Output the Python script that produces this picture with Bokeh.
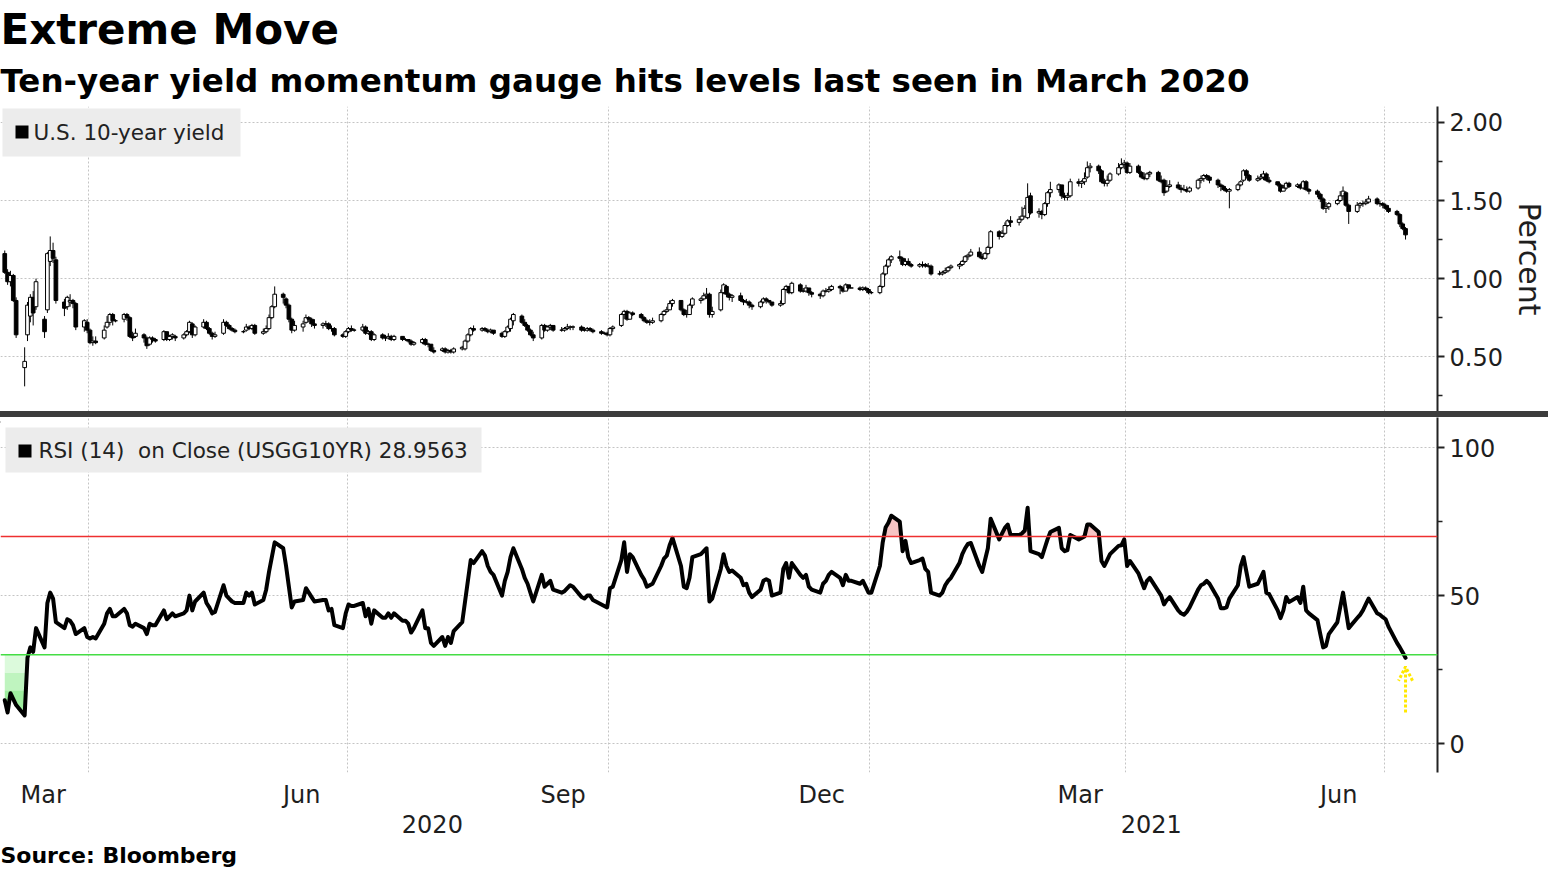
import numpy as np
import pandas as pd
from bokeh.plotting import figure
from bokeh.layouts import column
from bokeh.models import (ColumnDataSource, Range1d, FixedTicker, NumeralTickFormatter,
                          DatetimeTickFormatter, DatetimeAxis, Title, Span, Label,
                          Arrow, OpenHead, Div)
from bokeh.embed import file_html
from bokeh.resources import INLINE

FONT = "DejaVu Sans"

# ---------------- data: daily (open, high, low, close) of the US 10-year yield, per month
yld_2020_03 = [(1.16,1.18,1.03,1.04),(1.04,1.06,0.96,0.98),(0.98,1.05,0.95,1.02),(1.02,1.03,0.85,0.86),
    (0.86,0.88,0.62,0.64),(0.43,0.56,0.31,0.47),(0.64,0.85,0.60,0.83),(0.76,0.90,0.72,0.88),
    (0.88,0.92,0.70,0.78),(0.82,1.00,0.80,0.98),(0.74,0.76,0.62,0.66),(0.80,1.17,0.78,1.16),
    (1.11,1.27,1.08,1.18),(1.18,1.23,1.10,1.13),(1.12,1.14,0.84,0.86),(0.85,0.87,0.76,0.81),
    (0.82,0.89,0.80,0.88),(0.85,0.90,0.82,0.86),(0.86,0.87,0.81,0.84),(0.84,0.85,0.67,0.69),
    (0.69,0.74,0.66,0.73),(0.72,0.74,0.65,0.67)]
yld_2020_04 = [(0.67,0.68,0.58,0.59),(0.59,0.63,0.57,0.60),(0.60,0.63,0.58,0.59),(0.62,0.70,0.61,0.67),
    (0.69,0.76,0.68,0.72),(0.72,0.78,0.70,0.77),(0.77,0.78,0.70,0.73),(0.73,0.74,0.72,0.73),
    (0.74,0.78,0.72,0.77),(0.77,0.78,0.73,0.75),(0.75,0.76,0.62,0.63),(0.63,0.66,0.60,0.62),
    (0.63,0.68,0.62,0.65),(0.64,0.65,0.59,0.62),(0.62,0.63,0.55,0.57),(0.58,0.63,0.57,0.62),
    (0.62,0.63,0.59,0.61),(0.61,0.62,0.59,0.60),(0.61,0.67,0.60,0.66),(0.66,0.66,0.60,0.61),
    (0.61,0.64,0.60,0.63),(0.63,0.65,0.61,0.64)]
yld_2020_05 = [(0.63,0.64,0.60,0.62),(0.62,0.65,0.61,0.64),(0.64,0.67,0.63,0.66),(0.66,0.73,0.65,0.72),
    (0.71,0.72,0.62,0.64),(0.64,0.70,0.63,0.69),(0.69,0.74,0.68,0.72),(0.72,0.73,0.67,0.68),
    (0.68,0.69,0.64,0.65),(0.65,0.66,0.61,0.63),(0.63,0.66,0.62,0.64),(0.65,0.74,0.64,0.72),
    (0.72,0.73,0.69,0.70),(0.70,0.71,0.67,0.68),(0.68,0.69,0.66,0.67),(0.67,0.68,0.65,0.66),
    (0.66,0.67,0.65,0.66),(0.67,0.71,0.66,0.69),(0.69,0.70,0.67,0.68),(0.68,0.71,0.67,0.70),
    (0.70,0.71,0.64,0.65)]
yld_2020_06 = [(0.65,0.68,0.64,0.66),(0.66,0.70,0.65,0.68),(0.68,0.77,0.67,0.75),(0.75,0.83,0.74,0.82),
    (0.82,0.95,0.81,0.90),(0.90,0.91,0.84,0.88),(0.87,0.88,0.81,0.83),(0.83,0.84,0.72,0.74),
    (0.74,0.75,0.65,0.67),(0.67,0.73,0.66,0.70),(0.69,0.73,0.66,0.71),(0.72,0.77,0.71,0.75),
    (0.75,0.76,0.72,0.74),(0.74,0.75,0.69,0.71),(0.71,0.74,0.68,0.70),(0.70,0.72,0.68,0.71),
    (0.71,0.73,0.69,0.71),(0.71,0.72,0.67,0.68),(0.68,0.70,0.66,0.68),(0.68,0.69,0.63,0.64),
    (0.64,0.65,0.62,0.63),(0.63,0.67,0.62,0.66)]
yld_2020_07 = [(0.66,0.69,0.65,0.68),(0.68,0.70,0.66,0.67),(0.67,0.68,0.66,0.67),(0.67,0.71,0.66,0.69),
    (0.69,0.70,0.64,0.65),(0.65,0.67,0.64,0.66),(0.66,0.67,0.60,0.61),(0.61,0.65,0.60,0.64),
    (0.64,0.65,0.61,0.62),(0.62,0.64,0.60,0.62),(0.62,0.65,0.61,0.63),(0.63,0.64,0.60,0.61),
    (0.61,0.64,0.60,0.63),(0.63,0.63,0.60,0.61),(0.61,0.62,0.60,0.61),(0.61,0.61,0.59,0.60),
    (0.60,0.61,0.57,0.58),(0.58,0.60,0.57,0.59),(0.59,0.62,0.58,0.61),(0.61,0.62,0.57,0.58),
    (0.58,0.59,0.56,0.58),(0.58,0.58,0.53,0.54),(0.54,0.56,0.52,0.53)]
yld_2020_08 = [(0.54,0.56,0.53,0.55),(0.55,0.56,0.52,0.53),(0.53,0.55,0.52,0.54),(0.54,0.55,0.52,0.53),
    (0.53,0.56,0.52,0.55),(0.55,0.57,0.54,0.56),(0.55,0.61,0.54,0.60),(0.60,0.65,0.59,0.64),
    (0.64,0.69,0.63,0.68),(0.68,0.70,0.66,0.67),(0.67,0.69,0.66,0.68),(0.68,0.69,0.66,0.67),
    (0.67,0.68,0.65,0.66),(0.66,0.68,0.65,0.67),(0.67,0.67,0.64,0.65),(0.65,0.66,0.62,0.63),
    (0.63,0.67,0.62,0.66),(0.66,0.70,0.65,0.69),(0.68,0.75,0.66,0.74),(0.73,0.78,0.70,0.77),
    (0.76,0.77,0.71,0.72)]
yld_2020_09 = [(0.72,0.74,0.69,0.70),(0.70,0.71,0.66,0.67),(0.67,0.68,0.63,0.64),(0.64,0.66,0.60,0.62),
    (0.62,0.71,0.61,0.70),(0.70,0.71,0.66,0.67),(0.67,0.70,0.66,0.69),(0.69,0.71,0.67,0.70),
    (0.70,0.70,0.66,0.67),(0.67,0.69,0.66,0.67),(0.67,0.69,0.66,0.68),(0.68,0.71,0.67,0.69),
    (0.69,0.70,0.67,0.69),(0.69,0.70,0.67,0.69),(0.69,0.70,0.66,0.67),(0.67,0.69,0.66,0.67),
    (0.67,0.69,0.66,0.68),(0.68,0.69,0.66,0.67),(0.67,0.68,0.65,0.66),(0.66,0.67,0.64,0.65),
    (0.65,0.66,0.64,0.65),(0.65,0.66,0.63,0.64)]
yld_2020_10 = [(0.64,0.69,0.63,0.68),(0.68,0.70,0.66,0.69),(0.70,0.78,0.69,0.77),(0.77,0.80,0.74,0.79),
    (0.79,0.80,0.73,0.74),(0.74,0.79,0.74,0.78),(0.78,0.79,0.76,0.77),(0.77,0.78,0.74,0.75),
    (0.75,0.76,0.72,0.73),(0.73,0.74,0.71,0.72),(0.72,0.74,0.70,0.72),(0.72,0.75,0.71,0.73),
    (0.73,0.78,0.72,0.77),(0.77,0.80,0.76,0.79),(0.79,0.82,0.78,0.80),(0.80,0.86,0.80,0.84),
    (0.84,0.87,0.82,0.86),(0.86,0.86,0.79,0.80),(0.80,0.81,0.76,0.77),(0.77,0.80,0.75,0.77),
    (0.77,0.84,0.77,0.83),(0.83,0.88,0.81,0.87)]
yld_2020_11 = [(0.86,0.88,0.84,0.87),(0.87,0.91,0.86,0.89),(0.89,0.94,0.87,0.90),(0.90,0.91,0.75,0.77),
    (0.77,0.82,0.75,0.79),(0.80,0.93,0.79,0.91),(0.91,0.97,0.90,0.96),(0.95,0.96,0.88,0.90),
    (0.90,0.91,0.86,0.88),(0.88,0.90,0.85,0.89),(0.89,0.91,0.85,0.86),(0.86,0.87,0.83,0.85),
    (0.85,0.87,0.84,0.85),(0.85,0.86,0.81,0.83),(0.83,0.84,0.80,0.82),(0.82,0.86,0.81,0.85),
    (0.85,0.88,0.84,0.87),(0.87,0.88,0.84,0.86),(0.86,0.86,0.84,0.85),(0.85,0.85,0.82,0.83),
    (0.83,0.86,0.82,0.84)]
yld_2020_12 = [(0.84,0.94,0.83,0.93),(0.93,0.96,0.92,0.95),(0.95,0.95,0.90,0.91),(0.91,0.98,0.90,0.97),
    (0.96,0.97,0.91,0.92),(0.92,0.94,0.91,0.92),(0.92,0.96,0.91,0.94),(0.94,0.94,0.89,0.91),
    (0.91,0.92,0.88,0.90),(0.90,0.91,0.87,0.89),(0.89,0.93,0.88,0.92),(0.92,0.94,0.91,0.92),
    (0.92,0.95,0.91,0.93),(0.93,0.96,0.92,0.95),(0.95,0.96,0.90,0.94),(0.94,0.95,0.91,0.92),
    (0.92,0.97,0.92,0.96),(0.96,0.96,0.93,0.94),(0.94,0.94,0.94,0.94),(0.94,0.95,0.92,0.93),
    (0.93,0.95,0.92,0.94),(0.94,0.95,0.92,0.93),(0.93,0.94,0.90,0.91)]
yld_2021_01 = [(0.91,0.92,0.90,0.91),(0.91,0.96,0.90,0.95),(0.95,1.04,0.94,1.03),(1.03,1.09,1.02,1.08),
    (1.08,1.13,1.07,1.12),(1.12,1.15,1.10,1.14),(1.14,1.18,1.11,1.13),(1.13,1.14,1.08,1.09),
    (1.09,1.13,1.08,1.11),(1.11,1.13,1.08,1.09),(1.09,1.10,1.07,1.08),(1.08,1.10,1.07,1.09),
    (1.09,1.11,1.07,1.09),(1.09,1.10,1.07,1.08),(1.08,1.10,1.07,1.08),(1.08,1.09,1.02,1.03),
    (1.03,1.05,1.02,1.03),(1.03,1.05,1.02,1.04),(1.04,1.07,1.03,1.05),(1.05,1.08,1.04,1.07),
    (1.07,1.09,1.06,1.08)]
yld_2021_02 = [(1.08,1.10,1.06,1.09),(1.09,1.12,1.08,1.11),(1.11,1.15,1.10,1.14),(1.14,1.16,1.12,1.15),
    (1.15,1.19,1.14,1.17),(1.17,1.20,1.13,1.14),(1.14,1.16,1.12,1.13),(1.13,1.17,1.12,1.16),
    (1.16,1.21,1.15,1.20),(1.20,1.31,1.19,1.30),(1.30,1.31,1.25,1.27),(1.27,1.31,1.26,1.29),
    (1.29,1.36,1.28,1.34),(1.34,1.38,1.33,1.37),(1.37,1.40,1.33,1.36),(1.36,1.40,1.34,1.38),
    (1.38,1.46,1.37,1.40),(1.40,1.47,1.39,1.45),(1.39,1.61,1.38,1.52),(1.53,1.55,1.41,1.42)]
yld_2021_03 = [(1.42,1.45,1.39,1.43),(1.43,1.44,1.38,1.41),(1.41,1.49,1.40,1.48),(1.48,1.56,1.46,1.55),
    (1.55,1.62,1.52,1.57),(1.57,1.61,1.55,1.60),(1.60,1.60,1.51,1.53),(1.53,1.55,1.50,1.52),
    (1.52,1.55,1.50,1.53),(1.53,1.64,1.52,1.62),(1.62,1.64,1.59,1.61),(1.61,1.63,1.58,1.62),
    (1.62,1.68,1.60,1.64),(1.65,1.75,1.64,1.71),(1.71,1.74,1.68,1.72),(1.72,1.73,1.67,1.69),
    (1.69,1.70,1.61,1.62),(1.62,1.64,1.59,1.61),(1.61,1.66,1.59,1.63),(1.63,1.68,1.62,1.67),
    (1.67,1.74,1.66,1.71),(1.71,1.77,1.70,1.73),(1.73,1.76,1.70,1.74)]
yld_2021_04 = [(1.74,1.75,1.67,1.68),(1.68,1.74,1.67,1.72),(1.72,1.73,1.67,1.68),(1.68,1.69,1.64,1.65),
    (1.65,1.68,1.63,1.64),(1.64,1.68,1.63,1.67),(1.67,1.69,1.65,1.68),(1.68,1.69,1.62,1.63),
    (1.63,1.66,1.61,1.62),(1.63,1.64,1.53,1.55),(1.56,1.63,1.55,1.59),(1.59,1.63,1.58,1.60),
    (1.60,1.62,1.57,1.58),(1.58,1.60,1.55,1.57),(1.57,1.60,1.56,1.57),(1.57,1.59,1.55,1.56),
    (1.56,1.59,1.55,1.58),(1.58,1.64,1.57,1.63),(1.63,1.66,1.61,1.64),(1.64,1.67,1.62,1.66),
    (1.66,1.67,1.63,1.65),(1.65,1.66,1.61,1.63)]
yld_2021_05 = [(1.63,1.64,1.58,1.60),(1.60,1.61,1.56,1.59),(1.59,1.60,1.56,1.57),(1.57,1.58,1.55,1.56),
    (1.56,1.58,1.45,1.57),(1.57,1.61,1.56,1.60),(1.60,1.63,1.59,1.62),(1.63,1.70,1.62,1.69),
    (1.69,1.70,1.64,1.66),(1.66,1.67,1.62,1.63),(1.63,1.66,1.62,1.64),(1.64,1.67,1.63,1.65),
    (1.65,1.69,1.63,1.67),(1.67,1.68,1.62,1.63),(1.63,1.65,1.61,1.62),(1.62,1.62,1.59,1.60),
    (1.60,1.61,1.55,1.56),(1.56,1.60,1.56,1.58),(1.58,1.62,1.57,1.61),(1.61,1.62,1.58,1.59),
    (1.59,1.61,1.58,1.60)]
yld_2021_06 = [(1.60,1.61,1.57,1.58),(1.58,1.63,1.57,1.62),(1.62,1.63,1.56,1.57),(1.57,1.58,1.54,1.56),
    (1.56,1.57,1.52,1.54),(1.54,1.55,1.49,1.51),(1.51,1.52,1.44,1.45),(1.45,1.49,1.42,1.46),
    (1.46,1.49,1.44,1.48),(1.48,1.51,1.47,1.50),(1.50,1.56,1.49,1.53),(1.53,1.59,1.50,1.56),
    (1.55,1.56,1.46,1.47),(1.47,1.48,1.35,1.43),(1.43,1.49,1.42,1.47),(1.47,1.49,1.45,1.48),
    (1.48,1.50,1.46,1.48),(1.48,1.51,1.47,1.49),(1.49,1.53,1.48,1.51),(1.51,1.52,1.47,1.48),
    (1.48,1.50,1.46,1.48),(1.48,1.49,1.45,1.47)]
yld_2021_07 = [(1.47,1.48,1.44,1.45),(1.45,1.47,1.42,1.43),(1.43,1.44,1.40,1.41),(1.41,1.42,1.33,1.35),
    (1.35,1.36,1.31,1.32),(1.32,1.33,1.25,1.28)]

# ---------------- data: RSI (14) on close, per month
rsi_2020_03 = [14.6,10.5,17,15,13,9.5,29,32.5,31,39,32.5,47.5,51,49,41,39,42,41.5,40,37,39,36]
rsi_2020_04 = [35.5,36,35.5,40.5,44,45.5,43,43,45.5,44,40,39.5,40.5,39,37,40.5,40,40,45,42,43,44]
rsi_2020_05 = [43,44,45,50,45,48,51,47.5,46,44,44.5,53.5,50,49,48,47.5,47.5,51,50,51,47]
rsi_2020_06 = [48.5,52,58,63,68,66,60,53,46,48,48.5,52.5,51,49.5,48,48.5,48.5,45,45.5,40,39,44]
rsi_2020_07 = [47,46.5,46.5,47.5,43,45.5,40.5,45,42.5,42.5,44,42.5,44,41.5,41.5,40.5,37.5,39,45,39,39,34,33]
rsi_2020_08 = [36,33,36,34,38,41,48,55,62,61,65,63.5,60,58,57,50,55,58,63,66,59]
rsi_2020_09 = [56,54,51,48,57,53,54,55,52,51,51.5,52.5,53.5,53,49.5,49,50,50,48.5,47,46.5,46]
rsi_2020_10 = [52.5,53,62,68,58,64,63,57,55.5,53,53.5,54,60,62.5,63.5,67,69.5,60,53,52.5,56,63]
rsi_2020_11 = [64,65,66,48,49,59,64,60,58,58.5,56,53.5,54,51,49.5,52,55,55.5,55,50,51]
rsi_2020_12 = [59,61,56,61,57,56,57,53,52,51,54,55,57,58,56,53.5,57,55,55,54,55,53,51]
rsi_2021_01 = [51,60,68,73,74.6,77,75,65,68.5,63,61,62,62.5,59,58,51,50,51,53.5,55,56]
rsi_2021_02 = [61,64,66,67.5,67.8,60,58,62,66,76,69,71,72.9,74,70.5,70.5,71,72,79.7,65]
rsi_2021_03 = [64,63,66,69,71.5,72.9,66,65,65.4,70.5,69,69.5,70,74,74,71.5,61.7,60,62,64,66.8,67,69]
rsi_2021_04 = [60,61.7,57.5,55,52.5,55,56,51.5,50,47,48.5,49.5,45,44,43.5,44.5,46,52,53.5,54,55,54]
rsi_2021_05 = [49,45.7,45.7,46,49,53.5,60,63,58,53,54,56,58,51,50.5,45,42.4,45,49.5,47.8,49.5]
rsi_2021_06 = [47.5,53,45,44,41.7,37,32.5,33,37,41,46,51,45,39,42.4,43.5,45,47,49,44,43.5,42.7]
rsi_2021_07 = [42,39.5,34,32.5,30.8,28.9563]

MONTHS = ["2020-03","2020-04","2020-05","2020-06","2020-07","2020-08","2020-09","2020-10",
          "2020-11","2020-12","2021-01","2021-02","2021-03","2021-04","2021-05","2021-06","2021-07"]
YIELD_M = [yld_2020_03,yld_2020_04,yld_2020_05,yld_2020_06,yld_2020_07,yld_2020_08,yld_2020_09,
           yld_2020_10,yld_2020_11,yld_2020_12,yld_2021_01,yld_2021_02,yld_2021_03,yld_2021_04,
           yld_2021_05,yld_2021_06,yld_2021_07]
RSI_M = [rsi_2020_03,rsi_2020_04,rsi_2020_05,rsi_2020_06,rsi_2020_07,rsi_2020_08,rsi_2020_09,
         rsi_2020_10,rsi_2020_11,rsi_2020_12,rsi_2021_01,rsi_2021_02,rsi_2021_03,rsi_2021_04,
         rsi_2021_05,rsi_2021_06,rsi_2021_07]
LAST_DAY = pd.Timestamp("2021-07-08")

LEGEND_TOP = "U.S. 10-year yield"
LEGEND_BOTTOM = "RSI (14)\u00a0 on Close (USGG10YR) "
TITLE = "Extreme Move"
SUBTITLE = "Ten-year yield momentum gauge hits levels last seen in March 2020"
SOURCE = "Source: Bloomberg"
QUARTER_LINES = ["2020-04-01","2020-07-01","2020-10-01","2021-01-01","2021-04-01","2021-07-01"]
MONTH_TICKS = ["2020-03-16","2020-06-15","2020-09-15","2020-12-15","2021-03-16","2021-06-15"]
YEAR_TICKS = ["2020-07-31","2021-04-10"]

# ---------------- assemble
dates, ohlc, rsi = [], [], []
for m, yv, rv in zip(MONTHS, YIELD_M, RSI_M):
    per = pd.Period(m, "M")
    end = min(per.end_time.normalize(), LAST_DAY)
    days = pd.bdate_range(per.start_time, end)
    k = min(len(days), len(yv), len(rv))
    dates.extend(list(days[:k])); ohlc.extend(yv[:k]); rsi.extend(rv[:k])

xs = pd.DatetimeIndex(dates) + pd.Timedelta(hours=12)
arr = np.array(ohlc, dtype=float)
o, h, l, c = arr[:, 0], arr[:, 1], arr[:, 2], arr[:, 3]
rs = np.array(rsi, dtype=float)

def ms(s):
    return pd.Timestamp(s).value / 1e6

DAY = 86400000.0
X_START, X_END = pd.Timestamp("2020-03-01"), pd.Timestamp("2021-07-19 18:00")
xr = Range1d(X_START, X_END)
FW = 1437                       # frame width in px
TOP_H, BOT_H = 305, 355         # frame heights in px
TOP_Y = (0.149, 2.102)
BOT_Y = (-9.8, 110.2)

def fx(px):                      # frame px -> x data (ms)
    a, b = ms(X_START), ms(X_END)
    return a + px / FW * (b - a)

def fy(py, yr, hgt):             # frame px from top -> y data
    return yr[1] - py / hgt * (yr[1] - yr[0])

GRID_COLOR = "#c4c4c4"
TXT = "#1e1e1e"
BOX = "#ececec"

# ---------------- top panel
p1 = figure(frame_width=FW, frame_height=TOP_H, x_range=xr, y_range=Range1d(*TOP_Y),
            x_axis_type="datetime", x_axis_location=None, y_axis_location="right",
            output_backend="svg", toolbar_location=None, tools="", min_border=0,
            min_border_left=0, min_border_right=0, min_border_bottom=0, min_border_top=106,
            outline_line_color=None, title=TITLE)
p1.title.text_font = FONT
p1.title.text_font_size = "42px"
p1.title.text_font_style = "bold"
p1.title.text_color = "#000000"
p1.title.align = "left"
p1.title.standoff = 0
sub_title = Title(text=SUBTITLE, text_font=FONT, text_font_size="32.5px", text_font_style="bold",
                  text_color="#000000", align="left", standoff=13)
p1.add_layout(sub_title, "above")

# legend box (layout marks, positioned in frame pixels)
p1.quad(left=[fx(2)], right=[fx(240)], top=[fy(2, TOP_Y, TOP_H)], bottom=[fy(50, TOP_Y, TOP_H)],
        fill_color=BOX, line_color=None)
p1.quad(left=[fx(15)], right=[fx(28)], top=[fy(19, TOP_Y, TOP_H)], bottom=[fy(32, TOP_Y, TOP_H)],
        fill_color="black", line_color=None)
p1.add_layout(Label(x=fx(33), y=fy(26, TOP_Y, TOP_H), text=LEGEND_TOP, text_font=FONT,
                    text_font_size="21.5px", text_color="#222222", text_baseline="middle",
                    text_align="left"))

src = ColumnDataSource(dict(x=xs, o=o, h=h, l=l, c=c,
                            top=np.maximum(o, c), bottom=np.minimum(o, c),
                            fill=np.where(c >= o, "white", "black")))
p1.segment(x0="x", y0="l", x1="x", y1="h", source=src, line_color="black", line_width=1)
p1.vbar(x="x", width=1.3 * DAY, top="top", bottom="bottom", source=src,
        fill_color="fill", line_color="black", line_width=1)

p1.xgrid.ticker = FixedTicker(ticks=[ms(d) for d in QUARTER_LINES])
for g in list(p1.xgrid) + list(p1.ygrid):
    g.grid_line_color = GRID_COLOR
    g.grid_line_dash = "2 2"
    g.grid_line_width = 1

ya = p1.yaxis[0]
ya.ticker = FixedTicker(ticks=[0.5, 1.0, 1.5, 2.0], minor_ticks=[0.25, 0.75, 1.25, 1.75])
ya.formatter = NumeralTickFormatter(format="0.00")
ya.axis_label = "Percent"
ya.axis_label_text_font = FONT
ya.axis_label_text_font_size = "30px"
ya.axis_label_text_font_style = "normal"
ya.axis_label_text_color = TXT
ya.axis_label_standoff = 6

# ---------------- bottom panel
p2 = figure(frame_width=FW, frame_height=BOT_H, x_range=xr, y_range=Range1d(*BOT_Y),
            x_axis_type="datetime", y_axis_location="right", output_backend="svg",
            toolbar_location=None, tools="", min_border=0, min_border_left=0, min_border_right=0,
            min_border_top=0, min_border_bottom=0, outline_line_color=None, title=None)

p2.quad(left=[fx(5)], right=[fx(481)], top=[fy(10, BOT_Y, BOT_H)], bottom=[fy(55, BOT_Y, BOT_H)],
        fill_color=BOX, line_color=None)
p2.quad(left=[fx(18)], right=[fx(31)], top=[fy(27, BOT_Y, BOT_H)], bottom=[fy(40, BOT_Y, BOT_H)],
        fill_color="black", line_color=None)

pink_top = np.maximum(rs, 70.0)
p2.varea(x=xs, y1=70.0, y2=pink_top, fill_color="#f6c4c4")
for lo, hi, col in [(-10.0, 18.0, "#9fee9f"), (18.0, 24.0, "#bff4bf"), (24.0, 30.0, "#dcfadc")]:
    p2.varea(x=xs, y1=np.clip(rs, lo, hi), y2=hi, fill_color=col)

p2.add_layout(Span(location=70, dimension="width", line_color="#ee3030", line_width=1.5))
p2.add_layout(Span(location=30, dimension="width", line_color="#44dd44", line_width=1.5))

p2.line(x=xs, y=rs, line_color="black", line_width=4, line_join="round", line_cap="round")

x_last = ms(xs[-1])
p2.add_layout(Arrow(end=OpenHead(size=14, line_color="#ffe800", line_width=3, line_dash="3 2"),
                    x_start=x_last, y_start=rs[-1] - 18.5, x_end=x_last, y_end=rs[-1] - 3.0,
                    line_color="#ffe800", line_width=3, line_dash="3 2"))

p2.add_layout(Label(x=fx(38), y=fy(33, BOT_Y, BOT_H), text=LEGEND_BOTTOM + f"{rs[-1]:.4f}",
                    text_font=FONT, text_font_size="21.5px", text_color="#222222",
                    text_baseline="middle", text_align="left"))

p2.xgrid.ticker = FixedTicker(ticks=[ms(d) for d in QUARTER_LINES])
for g in list(p2.xgrid) + list(p2.ygrid):
    g.grid_line_color = GRID_COLOR
    g.grid_line_dash = "2 2"
    g.grid_line_width = 1

yb = p2.yaxis[0]
yb.ticker = FixedTicker(ticks=[0, 50, 100], minor_ticks=[25, 75])

for ax in (ya, yb):
    ax.major_label_text_font = FONT
    ax.major_label_text_font_size = "24px"
    ax.major_label_text_color = TXT
    ax.axis_line_color = "#222222"
    ax.axis_line_width = 2
    ax.major_tick_in = 0
    ax.major_tick_out = 7
    ax.major_tick_line_width = 2
    ax.major_tick_line_color = "#222222"
    ax.minor_tick_in = 0
    ax.minor_tick_out = 5
    ax.minor_tick_line_width = 1.5
    ax.minor_tick_line_color = "#222222"
    ax.major_label_standoff = 5

def fmt(f):
    return DatetimeTickFormatter(microseconds=f, milliseconds=f, seconds=f, minsec=f, minutes=f,
                                 hourmin=f, hours=f, days=f, months=f, years=f)

xa = p2.xaxis[0]
xa.ticker = FixedTicker(ticks=[ms(d) for d in MONTH_TICKS])
xa.formatter = fmt("%b")
year_axis = DatetimeAxis(ticker=FixedTicker(ticks=[ms(d) for d in YEAR_TICKS]), formatter=fmt("%Y"))
p2.add_layout(year_axis, "below")
for ax, so in ((xa, 8), (year_axis, 3)):
    ax.major_label_text_font = FONT
    ax.major_label_text_font_size = "24px"
    ax.major_label_text_color = TXT
    ax.axis_line_color = None
    ax.major_tick_line_color = None
    ax.minor_tick_line_color = None
    ax.major_tick_in = 0
    ax.major_tick_out = 0
    ax.minor_tick_in = 0
    ax.minor_tick_out = 0
    ax.major_label_standoff = so

src_title = Title(text=SOURCE, text_font=FONT, text_font_size="22px", text_font_style="bold",
                  text_color="#000000", align="left", standoff=10)
p2.add_layout(src_title, "below")

sep = Div(text='<div style="width:22px;height:2px;margin:2px auto 0;background:#9a9a9a"></div>',
          width=1548, height=6, margin=0, styles={"background-color": "#3c3c3c"})

layout = column(p1, sep, p2)
open("out.html", "w").write(file_html(layout, INLINE))
